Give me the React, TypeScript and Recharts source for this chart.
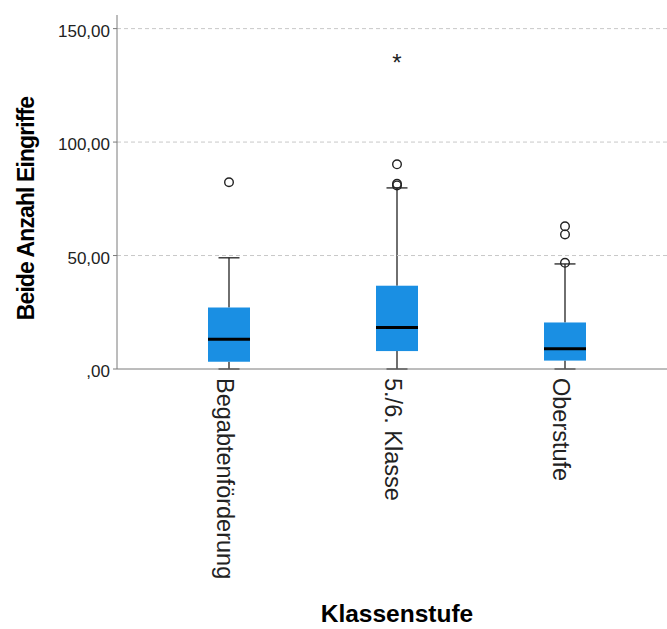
import React from 'react';
import { ComposedChart, Bar, XAxis, YAxis, ReferenceLine } from 'recharts';

const categories = ['Begabtenförderung', '5./6. Klasse', 'Oberstufe'];
const whiskerLow = [0, 0, 0];
const q1 = [3.2, 7.9, 3.7];
const median = [13.1, 18.3, 8.9];
const q3 = [27.1, 36.7, 20.5];
const whiskerHigh = [49.0, 79.8, 46.3];
const outliers = [[82.3], [80.9, 81.6, 90.2], [46.8, 59.3, 62.9]];
const extremes = [[], [137.4], []];
const yTicks = [0, 50, 100, 150];
const gridValues = [50, 100, 150];

const FONT = '"Liberation Sans", Arial, sans-serif';
const BOX_BLUE = '#1a8fe3';
const INK = '#222';

const data = categories.map((name, i) => ({
  name,
  box: [q1[i], q3[i]],
  low: whiskerLow[i],
  med: median[i],
  high: whiskerHigh[i],
  out: outliers[i],
  ext: extremes[i],
}));

const fmt = (v: number) => (v === 0 ? ',00' : `${v},00`);

// draws the whole box plot for one category, using the bar's own pixel scale
const BoxShape = (props: any) => {
  const { x, y, width, height, payload } = props;
  const [lo, hi] = payload.box;
  const top = Math.min(y, y + height);
  const k = Math.abs(height) / (hi - lo);
  const py = (v: number) => top + (hi - v) * k;
  const cx = x + width / 2;
  const cap = width / 4;

  return (
    <g>
      <line x1={cx} x2={cx} y1={py(payload.high)} y2={py(hi)} stroke={INK} strokeWidth={1.3} />
      <line x1={cx} x2={cx} y1={py(lo)} y2={py(payload.low)} stroke={INK} strokeWidth={1.3} />
      <line x1={cx - cap} x2={cx + cap} y1={py(payload.high)} y2={py(payload.high)} stroke={INK} strokeWidth={1.3} />
      <line x1={cx - cap} x2={cx + cap} y1={py(payload.low)} y2={py(payload.low)} stroke={INK} strokeWidth={1.3} />
      <rect x={x} y={top} width={width} height={Math.abs(height)} fill={BOX_BLUE} />
      <line x1={x} x2={x + width} y1={py(payload.med)} y2={py(payload.med)} stroke="#000" strokeWidth={3} />
      {payload.out.map((v: number, j: number) => (
        <circle key={'o' + j} cx={cx} cy={py(v)} r={4.3} fill="none" stroke={INK} strokeWidth={1.4} />
      ))}
      {payload.ext.map((v: number, j: number) => (
        <text key={'e' + j} x={cx} y={py(v) + 14} textAnchor="middle" fontSize={24} fontFamily={FONT} fill={INK}>
          *
        </text>
      ))}
    </g>
  );
};

const XTick = ({ x, y, payload }: any) => (
  <g transform={`translate(${x},${y})`}>
    <text transform="rotate(90)" x={9} y={0} dy={12} textAnchor="start" fontSize={23.5} fontFamily={FONT} fill={INK}>
      {payload.value}
    </text>
  </g>
);

const XTitle = (p: any) => {
  const vb = p.viewBox || { x: 117, y: 369, width: 550, height: 260 };
  return (
    <text x={vb.x + vb.width / 2 + 5} y={vb.y + vb.height - 7} textAnchor="middle" fontSize={24.5} fontWeight="bold" fontFamily={FONT} fill="#000">
      Klassenstufe
    </text>
  );
};

const YTitle = (p: any) => {
  const vb = p.viewBox || { x: 0, y: 15, width: 117, height: 354 };
  const tx = vb.x + 34;
  const ty = vb.y + vb.height / 2 + 16.5;
  return (
    <text transform={`translate(${tx},${ty}) rotate(-90)`} textAnchor="middle" fontSize={23} letterSpacing={-0.9} fontWeight="bold" fontFamily={FONT} fill="#000">
      Beide Anzahl Eingriffe
    </text>
  );
};

export default function App() {
  return (
    <div style={{ position: 'absolute', left: 0, top: 0, background: '#fff' }}>
      <ComposedChart width={667} height={629} data={data} margin={{ top: 15, right: 0, left: 0, bottom: 0 }}>
        {gridValues.map((v) => (
          <ReferenceLine key={v} y={v} stroke="#c8c8c8" strokeDasharray="4 3" />
        ))}
        <XAxis
          dataKey="name"
          type="category"
          height={260}
          interval={0}
          padding={{ left: 28, right: 18 }}
          axisLine={{ stroke: '#7a7a7a' }}
          tickLine={false}
          tickSize={0}
          tickMargin={0}
          tick={<XTick />}
          label={{ content: XTitle }}
        />
        <YAxis
          width={117}
          domain={[0, 156]}
          ticks={yTicks}
          tickFormatter={fmt}
          tickSize={4}
          tickMargin={3}
          axisLine={{ stroke: '#7a7a7a' }}
          tickLine={{ stroke: '#7a7a7a' }}
          tick={{ fontSize: 17, fill: INK, fontFamily: FONT, dy: 2 }}
          label={{ content: YTitle }}
        />
        <Bar dataKey="box" barSize={42} shape={BoxShape} isAnimationActive={false} />
      </ComposedChart>
    </div>
  );
}
